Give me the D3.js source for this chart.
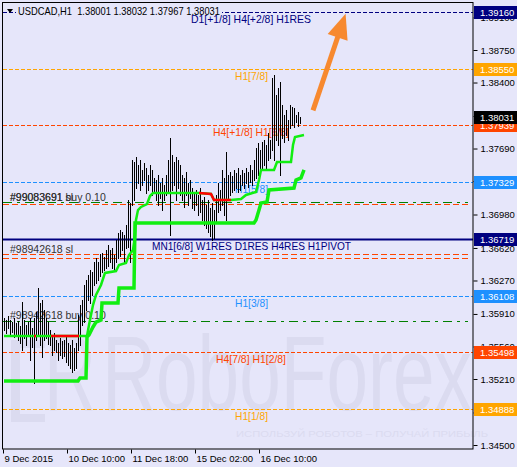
<!DOCTYPE html>
<html>
<head>
<meta charset="utf-8">
<script src="https://cdn.jsdelivr.net/npm/d3@7"></script>
<style>
  body { margin: 0; background: #e6e6fa; }
  svg text { font-family: "Liberation Sans", Arial, sans-serif; white-space: pre; }
</style>
</head>
<body>
<svg id="chart"></svg>
<script>
var width = 517, height = 467;
var plot = { left: 3, right: 473, top: 2, bottom: 449 };

// bar highs / lows (H1 USDCAD), oldest first
var highs = [1.35866,1.35845,1.35887,1.35845,1.35823,1.35866,1.35813,1.35834,1.35780,1.36038,
  1.35845,1.35791,1.35823,1.35866,1.35759,1.35866,1.35930,1.36190,1.36028,1.36060,
  1.35952,1.35866,1.35823,1.35737,1.35662,1.35705,1.35630,1.35598,1.35651,1.35619,
  1.35630,1.35662,1.35598,1.35576,1.35630,1.35544,1.35598,1.35898,1.36006,1.36060,
  1.36222,1.36275,1.36329,1.36383,1.36361,1.36469,1.36512,1.36469,1.36555,1.36566,
  1.36523,1.36598,1.36652,1.36598,1.36620,1.36544,1.36706,1.36781,1.36813,1.36792,
  1.36759,1.36867,1.37136,1.37104,1.37566,1.37545,1.37598,1.37512,1.37566,1.37459,
  1.37534,1.37480,1.37405,1.37512,1.37459,1.37373,1.37351,1.37405,1.37319,1.37373,
  1.37297,1.37405,1.37566,1.37803,1.37620,1.37545,1.37598,1.37566,1.37512,1.37405,
  1.37373,1.37437,1.37319,1.37351,1.37265,1.37222,1.37244,1.37190,1.37265,1.37136,
  1.37168,1.37082,1.37136,1.37050,1.37104,1.37028,1.37190,1.37319,1.37244,1.37459,
  1.37373,1.37653,1.37405,1.37437,1.37394,1.37459,1.37426,1.37480,1.37405,1.37459,
  1.37426,1.37480,1.37437,1.37512,1.37459,1.37566,1.37695,1.37749,1.37674,1.37760,
  1.37782,1.37728,1.37857,1.37782,1.38449,1.38481,1.38266,1.38341,1.38406,1.38158,
  1.38050,1.38104,1.37997,1.38158,1.38137,1.38126,1.38050,1.38083,1.38032];
var lows = [1.35737,1.35705,1.35759,1.35683,1.35715,1.35662,1.35694,1.35630,1.35598,1.35522,
  1.35651,1.35576,1.35673,1.35414,1.35554,1.35167,1.35630,1.35673,1.35576,1.35446,
  1.35630,1.35651,1.35587,1.35576,1.35468,1.35522,1.35500,1.35414,1.35468,1.35436,
  1.35457,1.35392,1.35360,1.35328,1.35285,1.35307,1.35328,1.35522,1.35576,1.35791,
  1.35823,1.35952,1.36060,1.36028,1.36114,1.36222,1.36243,1.36275,1.36318,1.36361,
  1.36383,1.36404,1.36426,1.36469,1.36404,1.36383,1.36469,1.36512,1.36534,1.36598,
  1.36469,1.36620,1.36631,1.36469,1.37082,1.37136,1.37265,1.37319,1.37244,1.37297,
  1.37351,1.37211,1.37244,1.37297,1.37190,1.37222,1.37136,1.37082,1.37158,1.37028,
  1.37136,1.37190,1.37222,1.36760,1.37244,1.37297,1.37136,1.37265,1.37190,1.37136,
  1.37060,1.37190,1.37082,1.37158,1.37050,1.37028,1.37082,1.36974,1.37006,1.36921,
  1.36867,1.36835,1.36792,1.36749,1.36706,1.36727,1.36899,1.37006,1.37028,1.37082,
  1.36974,1.36921,1.37136,1.37190,1.37222,1.37244,1.37265,1.37222,1.37244,1.37297,
  1.37265,1.37319,1.37276,1.37330,1.37297,1.37351,1.37373,1.37405,1.37437,1.37480,
  1.37512,1.37459,1.37566,1.37588,1.37674,1.37566,1.37782,1.37728,1.37405,1.37803,
  1.37760,1.37835,1.37782,1.37911,1.37943,1.37921,1.37975,1.37932,1.37967];

// trailing stop lines (bar index, price)
var stopFastIdx = [0,41.5,42.5,44.5,46,48.5,50.5,56,57.5,61,62.5,64.5,65.5,66,67,68.5,71.5,73,74.5,97.5,103.5,105,113.5,118.5,121,126,127.5,128.5,135,136.5,143.5,144.5,145.5,150];
var stopFastVal = [1.35673,1.35673,1.35791,1.36006,1.36114,1.36222,1.36351,1.36372,1.36437,1.36458,1.36544,1.36598,1.36738,1.36921,1.37028,1.37061,1.37093,1.37179,1.37211,1.37211,1.37201,1.37136,1.37136,1.37147,1.37190,1.37222,1.37351,1.37459,1.37459,1.37545,1.37545,1.37728,1.37814,1.37835];
var redRanges = [[15, 16], [23.5, 37.5], [97.5, 113.5]];
var stopSlowIdx = [0,37,38,41,41.5,42.5,44.5,46,48.5,49,57,57.5,65,65.5,125,126,127.5,128.5,131.5,132.5,145,146,148.5,150];
var stopSlowVal = [1.35188,1.35188,1.35220,1.35220,1.35662,1.35683,1.35770,1.35823,1.35845,1.36028,1.36028,1.36190,1.36190,1.36889,1.36889,1.36921,1.37028,1.37104,1.37115,1.37244,1.37265,1.37351,1.37373,1.37459];

// Murrey levels
var levelPrices = [1.39160, 1.38550, 1.37939, 1.37329, 1.36719, 1.36108, 1.35498, 1.34888];
var levelNames = ["D1[+1/8] H4[+2/8] H1RES", "H1[7/8]", "H4[+1/8] H1[6/8]", "H1[5/8]",
  "MN1[6/8] W1RES D1RES H4RES H1PIVOT", "H1[3/8]", "H4[7/8] H1[2/8]", "H1[1/8]"];
var levelColors = ["#000080", "#ffa500", "#ff4500", "#1e90ff", "#000080", "#1e90ff", "#ff4500", "#ffa500"];
// where each level name sits (left x, width)
var levelNameBox = [[191, 120], [235, 33], [213, 76], [235, 33], [152, 199], [235, 33], [216, 70], [235, 33]];

// orders
var orderPrices = [1.37115, 1.37088, 1.36555, 1.36517, 1.35834];
var orderKinds = ["open", "sl", "sl", "sl", "open"];
var orderTexts = [["#99083691 buy 0.10", "#99083691 sl"], ["#98942618 sl"], ["#98942618 buy 0.10"]];
var orderTextPrices = [1.37125, 1.36571, 1.35856];

var yTicks = [1.39100, 1.38750, 1.38400, 1.38040, 1.37690, 1.37340, 1.36980, 1.36620, 1.36270, 1.35910, 1.35560, 1.35210, 1.34850, 1.34500];
var xTickIdx = [0, 32, 64, 96, 128];
var xTickLabels = ["9 Dec 2015", "10 Dec 10:00", "11 Dec 18:00", "15 Dec 02:00", "16 Dec 10:00"];
var lastPrice = 1.38031;
var title = "USDCAD,H1  1.38001 1.38032 1.37967 1.38031";
var arrowFrom = [155, 1.3810], arrowTo = [171.3, 1.3914];

var x = d3.scaleLinear().domain([0, 235]).range([plot.left, plot.right]);
var y = d3.scaleLinear().domain([1.3450, 1.3875]).range([445, 50]);
function cy(p) { return Math.round(y(p)) + 0.5; }
function bx(i) { return Math.round(x(i)) + 1.5; }

var svg = d3.select("#chart").attr("width", width).attr("height", height);
svg.append("rect").attr("width", width).attr("height", height).attr("fill", "#e6e6fa");

// watermark
var wm = svg.append("g").attr("fill", "#dbdbf0");
wm.append("rect").attr("x", 11).attr("y", 340).attr("width", 9).attr("height", 82);
wm.append("rect").attr("x", 11).attr("y", 340).attr("width", 34).attr("height", 8);
wm.append("rect").attr("x", 11).attr("y", 414).attr("width", 34).attr("height", 8);
wm.append("text").attr("x", 44).attr("y", 410).attr("font-size", 105).attr("textLength", 52)
  .attr("lengthAdjust", "spacingAndGlyphs").text("R");
wm.append("text").attr("x", 102).attr("y", 410).attr("font-size", 105).attr("textLength", 370)
  .attr("lengthAdjust", "spacingAndGlyphs").text("RoboForex");
wm.append("text").attr("x", 236).attr("y", 437).attr("font-size", 9.5).attr("textLength", 252)
  .attr("lengthAdjust", "spacingAndGlyphs").text("ИСПОЛЬЗУЙ РОБОТОВ – ПОЛУЧАЙ ПРИБЫЛЬ");

var g = svg.append("g");

// level lines
levelPrices.forEach(function(p, i) {
  g.append("line").attr("x1", plot.left).attr("x2", plot.right).attr("y1", cy(p)).attr("y2", cy(p))
    .attr("stroke", levelColors[i])
    .attr("stroke-width", i == 4 ? 2 : 1)
    .attr("stroke-dasharray", i == 4 ? null : "4,2");
  g.append("text").attr("x", levelNameBox[i][0]).attr("y", Math.round(y(p)) + 11)
    .attr("textLength", levelNameBox[i][1]).attr("lengthAdjust", "spacingAndGlyphs")
    .attr("font-size", 11).attr("fill", levelColors[i])
    .text(levelNames[i]);
});

// order lines
orderPrices.forEach(function(p, i) {
  g.append("line").attr("x1", plot.left).attr("x2", 468).attr("y1", cy(p)).attr("y2", cy(p))
    .attr("stroke", orderKinds[i] == "open" ? "#008000" : "#ff4500")
    .attr("stroke-dasharray", orderKinds[i] == "open" ? "9,5,3,5" : "6,3");
});
orderTexts.forEach(function(list, i) {
  list.forEach(function(t) {
    g.append("text").attr("x", 10).attr("y", Math.round(y(orderTextPrices[i])))
      .attr("font-size", 10.5).attr("fill", "#333").text(t);
  });
});

// bars
g.append("g").selectAll("line").data(highs).join("line")
  .attr("x1", function(d, i) { return bx(i); })
  .attr("x2", function(d, i) { return bx(i); })
  .attr("y1", function(d) { return Math.round(y(d)); })
  .attr("y2", function(d, i) { return Math.round(y(lows[i])) + 1; })
  .attr("stroke", "#000").attr("stroke-width", 1);

// stop lines
var line = d3.line().x(function(d) { return x(d[0]) + 1; }).y(function(d) { return y(d[1]); });
var slow = d3.zip(stopSlowIdx, stopSlowVal), fast = d3.zip(stopFastIdx, stopFastVal);
g.append("path").attr("d", line(slow)).attr("fill", "none").attr("stroke", "#11ee11").attr("stroke-width", 3.5);
g.append("path").attr("d", line(fast)).attr("fill", "none").attr("stroke", "#11ee11").attr("stroke-width", 2.5);
var defs = svg.append("defs");
redRanges.forEach(function(r, i) {
  defs.append("clipPath").attr("id", "red" + i).append("rect")
    .attr("x", x(r[0]) + 1).attr("width", x(r[1]) - x(r[0])).attr("y", 0).attr("height", height);
  g.append("path").attr("d", line(fast)).attr("clip-path", "url(#red" + i + ")")
    .attr("fill", "none").attr("stroke", "#ff0000").attr("stroke-width", 2.5);
});

// arrow
var ax0 = x(arrowFrom[0]), ay0 = y(arrowFrom[1]), ax1 = x(arrowTo[0]), ay1 = y(arrowTo[1]);
var len = Math.hypot(ax1 - ax0, ay1 - ay0), ux = (ax1 - ax0) / len, uy = (ay1 - ay0) / len;
var hl = 25, hw = 10.5;
var bxm = ax1 - ux * hl, bym = ay1 - uy * hl;
g.append("line").attr("x1", ax0).attr("y1", ay0).attr("x2", bxm + ux * 2).attr("y2", bym + uy * 2)
  .attr("stroke", "#f7892f").attr("stroke-width", 5);
g.append("path").attr("fill", "#f7892f")
  .attr("d", "M" + ax1 + "," + ay1 + "L" + (bxm - uy * hw) + "," + (bym + ux * hw) + "L" + (bxm + uy * hw) + "," + (bym - ux * hw) + "Z");

// title
svg.append("rect").attr("x", 16).attr("y", 5).attr("width", 206).attr("height", 9).attr("fill", "#e6e6fa");
svg.append("path").attr("d", "M7,9L13,9L10,13Z").attr("fill", "#000");
svg.append("text").attr("x", 18).attr("y", 14.5).attr("font-size", 10.5).attr("textLength", 202)
  .attr("lengthAdjust", "spacingAndGlyphs").attr("fill", "#000").text(title);

// frame
svg.append("rect").attr("x", 2.5).attr("y", 2.5).attr("width", plot.right - 2.5).attr("height", plot.bottom - 2.5)
  .attr("fill", "none").attr("stroke", "#000");

// axes
var yAxis = d3.axisRight(y).tickValues(yTicks).tickFormat(function(d) { return d.toFixed(5); }).tickSize(4).tickPadding(3);
var ya = svg.append("g").attr("transform", "translate(" + (plot.right + 0.5) + ",0)").call(yAxis);
ya.select(".domain").remove();
ya.selectAll("text").attr("font-size", 9.5).attr("font-family", "Liberation Sans, Arial, sans-serif").attr("fill", "#000");

var xAxis = d3.axisBottom(x).tickValues(xTickIdx).tickFormat(function(d, i) { return xTickLabels[i]; }).tickSize(4);
var xa = svg.append("g").attr("transform", "translate(0," + (plot.bottom + 0.5) + ")").call(xAxis);
xa.select(".domain").remove();
xa.selectAll("text").attr("font-size", 9.5).attr("font-family", "Liberation Sans, Arial, sans-serif")
  .attr("fill", "#000").attr("text-anchor", "start").attr("dx", 1).attr("y", 6);

// price boxes
var boxPrices = levelPrices.concat([lastPrice]);
var boxColors = levelColors.concat(["#000"]);
boxPrices.forEach(function(p, i) {
  var yy = Math.round(y(p));
  svg.append("rect").attr("x", plot.right + 1).attr("y", yy - 6).attr("width", width - plot.right - 1).attr("height", 13)
    .attr("fill", boxColors[i]);
  svg.append("text").attr("x", plot.right + 7).attr("y", yy + 4).attr("font-size", 9.5).attr("fill", "#fff")
    .text(p.toFixed(5));
});
</script>
</body>
</html>
